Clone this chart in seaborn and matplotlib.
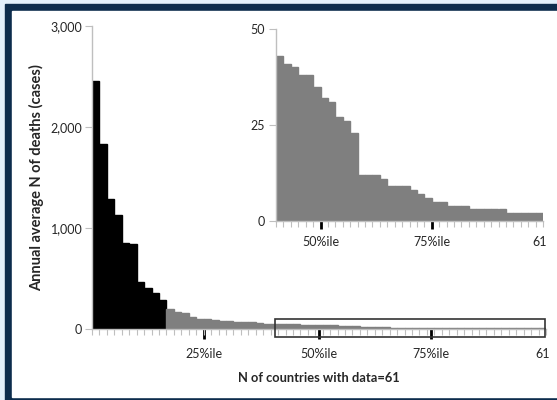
import numpy as np
import pandas as pd
import seaborn as sns
import matplotlib.pyplot as plt
from matplotlib.patches import Rectangle

# annual average deaths per country, sorted high to low (61 countries)
deaths = [2450, 1825, 1280, 1130, 850, 840, 465, 400, 350, 280,
          190, 160, 155, 110, 95, 90, 80, 78, 75, 65, 62, 60, 50, 48, 45,
          43, 41, 40, 38, 38, 35, 32, 31, 27, 26, 23, 12, 12, 12, 11,
          9, 9, 9, 8, 7, 6, 5, 5, 4, 4, 4, 3, 3, 3, 3, 3, 2, 2, 2, 2, 2]
n_top = 10        # countries drawn in black
zoom_from = 25    # first country (0-based) repeated in the inset
main_yticks = [0, 1000, 2000, 3000]
inset_yticks = [0, 25, 50]
main_pct_labels = ['25%ile', '50%ile', '75%ile', '61']
main_pct_pos = [14.6, 30, 45.1, 60]
inset_pct_labels = ['50%ile', '75%ile', '61']
inset_pct_pos = [30.5, 45.5, 60]

sns.set_style('white')
plt.rcParams['font.family'] = ['Lato', 'DejaVu Sans']

df = pd.DataFrame({'country': range(len(deaths)), 'deaths': deaths})
df['group'] = np.where(df['country'] < n_top, 'top', 'rest')

fig = plt.figure(figsize=(5.57, 4), dpi=100)
fig.patch.set_facecolor('#e2f0fb')
fig.add_artist(Rectangle((5 / 557, -0.1), 1.2, 0.1 + 396 / 400,
                         transform=fig.transFigure, color='#0c2c4c', zorder=-3))
fig.add_artist(Rectangle((12 / 557, 3 / 400), 1.2, 386.5 / 400,
                         transform=fig.transFigure, color='white', zorder=-2))

light = '#bfbfbf'


def solid_bars(a):
    # no white seams between neighbouring bars
    for p in a.patches:
        p.set_edgecolor(p.get_facecolor())
        p.set_linewidth(1.0)


#MAIN CHART
ax = fig.add_axes([92 / 557, 71.5 / 400, 454 / 557, 302.5 / 400])
ax.set_facecolor('none')
sns.barplot(data=df, x='country', y='deaths', hue='group',
            palette={'top': 'black', 'rest': '#7f7f7f'}, dodge=False,
            width=1, saturation=1, legend=False, ax=ax)
solid_bars(ax)
ax.set_xlim(-0.5, len(deaths) - 0.5)
ax.set_ylim(0, 3000)
ax.set_yticks(main_yticks)
ax.set_yticklabels([f'{v:,}' for v in main_yticks])
ax.set_xticks(main_pct_pos)
ax.set_xticklabels(main_pct_labels)
ax.set_xticks(np.arange(-0.5, len(deaths), 1), minor=True)
sns.despine(ax=ax)
for s in ['left', 'bottom']:
    ax.spines[s].set_color(light)
    ax.spines[s].set_linewidth(1)
ax.tick_params(axis='y', left=True, length=5, color=light, labelsize=9, pad=2)
ax.tick_params(axis='x', which='major', bottom=True, length=7, width=2,
               color='black', labelsize=9, pad=7)
ax.tick_params(axis='x', which='minor', bottom=True, length=4, width=0.8, color=light)
ax.xaxis.get_major_ticks()[-1].tick1line.set_visible(False)
ax.set_xlabel('N of countries with data=61', fontsize=9.3, fontweight='bold')
ax.set_ylabel('Annual average N of deaths (cases)', fontsize=10.5, fontweight='bold')
ax.xaxis.set_label_coords(0.5, -0.144)
ax.yaxis.set_label_coords(-0.106, 0.5)
ax.add_patch(Rectangle((24.1, -84), 36.2, 175, fill=False, ec='#333333',
                       lw=1.2, clip_on=False, zorder=5))

#INSET: zoom on the small countries
axin = fig.add_axes([276 / 557, 179 / 400, 267 / 557, 192 / 400])
axin.set_facecolor('none')
sub = df[df['country'] >= zoom_from]
sns.barplot(data=sub, x='country', y='deaths', color='#7f7f7f',
            width=1, saturation=1, ax=axin)
solid_bars(axin)
n_in = len(sub)
axin.set_xlim(-0.5, n_in - 0.5)
axin.set_ylim(0, 50)
axin.set_yticks(inset_yticks)
axin.set_xticks([v - zoom_from for v in inset_pct_pos])
axin.set_xticklabels(inset_pct_labels)
axin.set_xticks(np.arange(-0.5, n_in, 1), minor=True)
sns.despine(ax=axin)
for s in ['left', 'bottom']:
    axin.spines[s].set_color(light)
    axin.spines[s].set_linewidth(1)
axin.tick_params(axis='y', left=True, length=5, color=light, labelsize=9, pad=3)
axin.tick_params(axis='x', which='major', bottom=True, length=6, width=2,
                 color='black', labelsize=9, pad=5)
axin.tick_params(axis='x', which='minor', bottom=True, length=4, width=0.8, color=light)
axin.xaxis.get_major_ticks()[-1].tick1line.set_visible(False)
axin.set_xlabel('')
axin.set_ylabel('')

fig.savefig('out.png', dpi=100, facecolor=fig.get_facecolor())
